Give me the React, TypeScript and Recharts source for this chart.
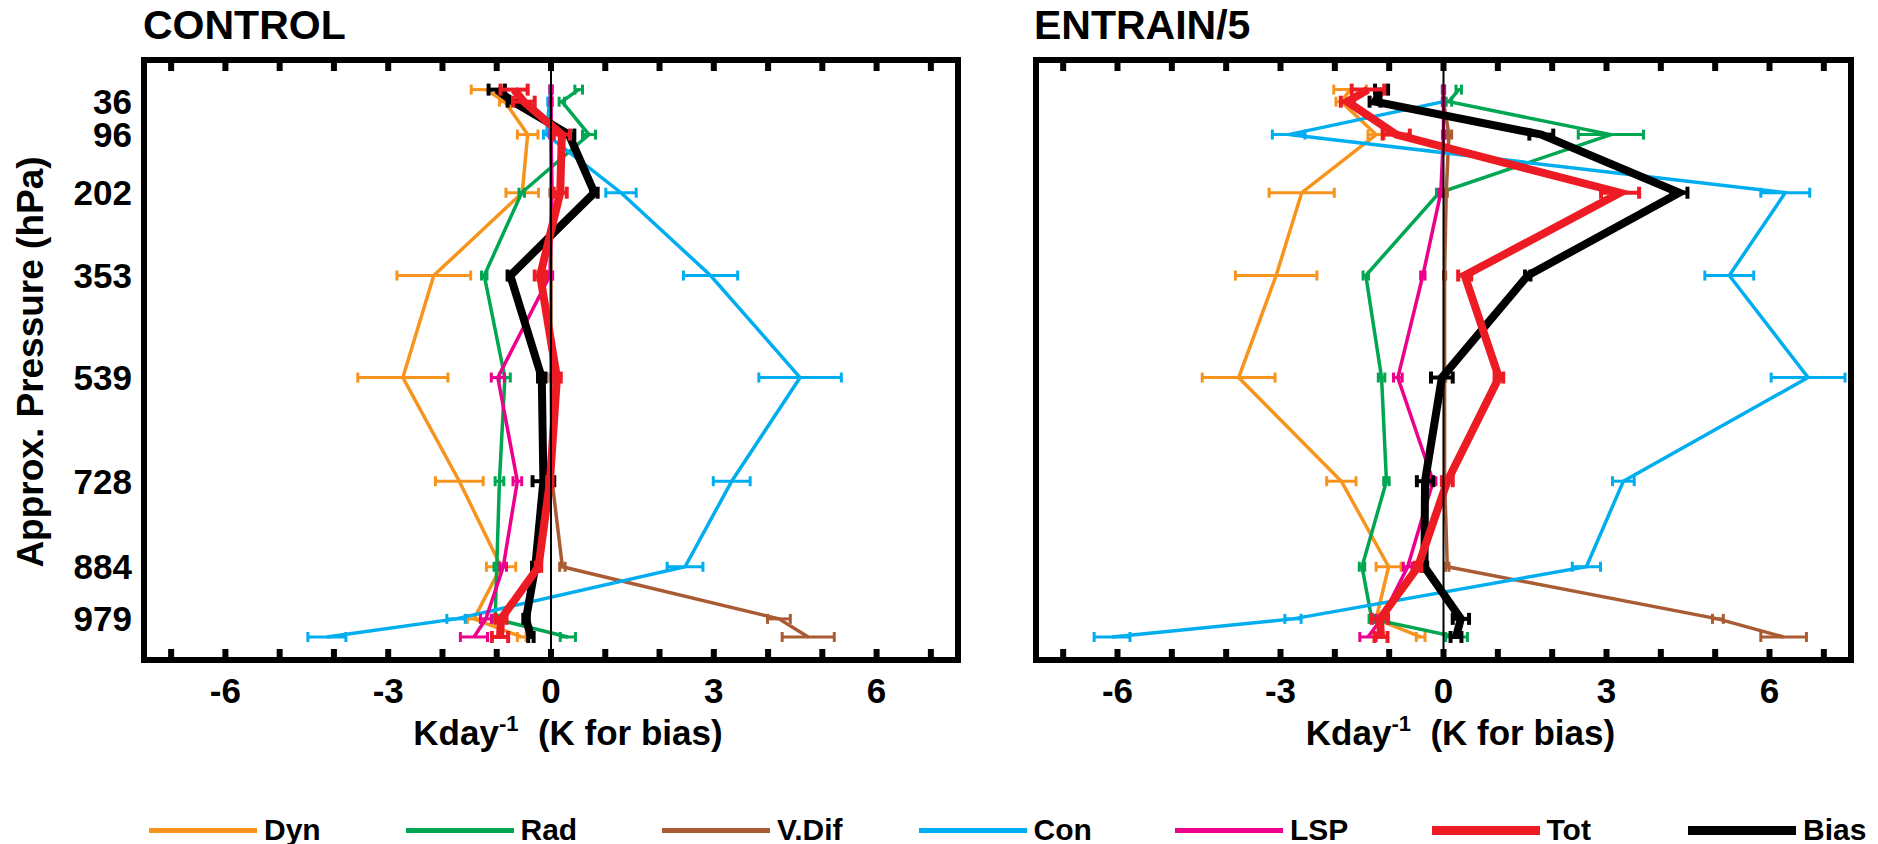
import React from 'react';
import { LineChart, Line, XAxis, YAxis, ErrorBar, ReferenceLine, Legend } from 'recharts';

const FONT = '"Liberation Sans", Arial, Helvetica, sans-serif';

// approx. pressure of each model level (hPa), top to bottom
const LEVELS = [14, 36, 96, 202, 353, 539, 728, 884, 979, 1012];
const LEVEL_LABELS = ['', '36', '96', '202', '353', '539', '728', '884', '979', ''];
const X_LABEL_TICKS = [-6, -3, 0, 3, 6];
const X_MINOR_TICKS = [-7, -6, -5, -4, -3, -2, -1, 0, 1, 2, 3, 4, 5, 6, 7];

// CONTROL
const CTRL_DYN = [-1.2, -0.85, -0.43, -0.53, -2.16, -2.73, -1.69, -0.92, -1.42, -0.54];
const CTRL_DYN_ERR = [0.27, 0.1, 0.19, 0.3, 0.68, 0.83, 0.44, 0.27, 0.12, 0.08];
const CTRL_RAD = [0.51, 0.2, 0.7, -0.54, -1.23, -0.85, -0.95, -1.0, -1.03, 0.31];
const CTRL_RAD_ERR = [0.07, 0.05, 0.12, 0.05, 0.05, 0.1, 0.08, 0.05, 0.05, 0.14];
const CTRL_VDIF = [0, 0, 0, 0, 0, 0, 0.02, 0.21, 4.2, 4.74];
const CTRL_VDIF_ERR = [0.02, 0.02, 0.02, 0.02, 0.02, 0.02, 0.03, 0.05, 0.21, 0.48];
const CTRL_CON = [0.0, -0.03, -0.08, 1.29, 2.94, 4.59, 3.33, 2.47, -1.75, -4.13];
const CTRL_CON_ERR = [0.02, 0.03, 0.06, 0.28, 0.5, 0.76, 0.34, 0.33, 0.17, 0.35];
const CTRL_LSP = [0, 0, 0, 0.02, -0.02, -0.98, -0.62, -0.88, -1.2, -1.42];
const CTRL_LSP_ERR = [0.02, 0.02, 0.02, 0.02, 0.05, 0.12, 0.08, 0.06, 0.1, 0.25];
const CTRL_TOT = [-0.68, -0.5, 0.2, 0.17, -0.2, 0.11, -0.02, -0.23, -0.92, -0.94];
const CTRL_TOT_ERR = [0.25, 0.2, 0.15, 0.12, 0.1, 0.07, 0.05, 0.05, 0.1, 0.15];
const CTRL_BIAS = [-1.0, -0.7, 0.33, 0.8, -0.75, -0.17, -0.14, -0.29, -0.46, -0.37];
const CTRL_BIAS_ERR = [0.15, 0.1, 0.1, 0.06, 0.05, 0.07, 0.2, 0.06, 0.05, 0.05];

// ENTRAIN/5
const ENT_DYN = [-1.72, -1.88, -1.24, -2.61, -3.08, -3.77, -1.88, -1.01, -1.24, -0.42];
const ENT_DYN_ERR = [0.3, 0.1, 0.15, 0.6, 0.75, 0.67, 0.27, 0.23, 0.1, 0.08];
const ENT_RAD = [0.28, 0.1, 3.08, -0.08, -1.43, -1.14, -1.05, -1.5, -1.32, 0.24];
const ENT_RAD_ERR = [0.05, 0.05, 0.6, 0.05, 0.05, 0.06, 0.05, 0.05, 0.05, 0.2];
const ENT_VDIF = [0, 0, 0.1, 0.05, 0.02, 0.02, 0.02, 0.07, 5.05, 6.26];
const ENT_VDIF_ERR = [0.02, 0.02, 0.05, 0.02, 0.02, 0.02, 0.02, 0.03, 0.1, 0.42];
const ENT_CON = [0.0, 0.0, -2.85, 6.29, 5.26, 6.71, 3.31, 2.63, -2.77, -6.1];
const ENT_CON_ERR = [0.02, 0.02, 0.3, 0.45, 0.45, 0.68, 0.2, 0.26, 0.15, 0.33];
const ENT_LSP = [0, 0, 0, -0.05, -0.38, -0.84, -0.19, -0.66, -1.14, -1.39];
const ENT_LSP_ERR = [0.02, 0.02, 0.02, 0.03, 0.04, 0.08, 0.05, 0.08, 0.1, 0.15];
const ENT_TOT = [-1.39, -1.77, -0.87, 3.25, 0.39, 1.02, 0.07, -0.47, -1.17, -1.15];
const ENT_TOT_ERR = [0.3, 0.12, 0.25, 0.35, 0.12, 0.08, 0.1, 0.06, 0.15, 0.12];
const ENT_BIAS = [-1.14, -1.26, 1.8, 4.34, 1.55, -0.03, -0.34, -0.35, 0.32, 0.23];
const ENT_BIAS_ERR = [0.12, 0.1, 0.22, 0.15, 0.05, 0.2, 0.15, 0.05, 0.15, 0.1];

const SERIES = [
  { key: 'dyn', name: 'Dyn', color: '#F7941D', width: 3.5, legend: 5 },
  { key: 'rad', name: 'Rad', color: '#00A651', width: 3.5, legend: 5 },
  { key: 'vdif', name: 'V.Dif', color: '#A95C34', width: 3.5, legend: 5 },
  { key: 'con', name: 'Con', color: '#00AEEF', width: 3.5, legend: 5 },
  { key: 'lsp', name: 'LSP', color: '#EC008C', width: 3.5, legend: 5 },
  { key: 'tot', name: 'Tot', color: '#ED1C24', width: 8, legend: 9 },
  { key: 'bias', name: 'Bias', color: '#000000', width: 8, legend: 9 },
];
// bias drawn under tot
const DRAW_ORDER = ['dyn', 'rad', 'vdif', 'con', 'lsp', 'bias', 'tot'];

const buildRows = (vals, errs) =>
  LEVELS.map((p, i) => {
    const row = { p };
    Object.keys(vals).forEach((k) => {
      row[k] = vals[k][i];
      row[k + 'Err'] = errs[k][i];
    });
    return row;
  });

const CTRL_ROWS = buildRows(
  { dyn: CTRL_DYN, rad: CTRL_RAD, vdif: CTRL_VDIF, con: CTRL_CON, lsp: CTRL_LSP, tot: CTRL_TOT, bias: CTRL_BIAS },
  { dyn: CTRL_DYN_ERR, rad: CTRL_RAD_ERR, vdif: CTRL_VDIF_ERR, con: CTRL_CON_ERR, lsp: CTRL_LSP_ERR, tot: CTRL_TOT_ERR, bias: CTRL_BIAS_ERR }
);
const ENT_ROWS = buildRows(
  { dyn: ENT_DYN, rad: ENT_RAD, vdif: ENT_VDIF, con: ENT_CON, lsp: ENT_LSP, tot: ENT_TOT, bias: ENT_BIAS },
  { dyn: ENT_DYN_ERR, rad: ENT_RAD_ERR, vdif: ENT_VDIF_ERR, con: ENT_CON_ERR, lsp: ENT_LSP_ERR, tot: ENT_TOT_ERR, bias: ENT_BIAS_ERR }
);

const FRAME = { stroke: '#000', strokeWidth: 6, strokeLinecap: 'square' as const };
const TICK = { stroke: '#000', strokeWidth: 6 };
const TICK_FONT = { fontSize: 35, fontWeight: 700, fill: '#000', fontFamily: FONT };
const X_DOMAIN = [-7.5, 7.5];
const Y_DOMAIN = [-40, 1054];

// tick marks only, no label
const NoLabel = () => null;

const XTitle = (props: any) => {
  const vb = props.viewBox || { x: 0, y: 660, width: 814 };
  return (
    <text
      x={vb.x + vb.width / 2 + 17}
      y={vb.y + 85}
      textAnchor="middle"
      fontSize={35}
      fontWeight={700}
      fontFamily={FONT}
      fill="#000"
      style={{ whiteSpace: 'pre' }}
    >
      Kday
      <tspan dy={-14} fontSize={22}>-1</tspan>
      <tspan dy={14}>{'  (K for bias)'}</tspan>
    </text>
  );
};

const YTitle = (props: any) => {
  const vb = props.viewBox || { x: 0, y: 60, height: 600 };
  const x = vb.x + 43;
  const y = vb.y + vb.height / 2 + 2;
  return (
    <text
      x={x}
      y={y}
      transform={`rotate(-90 ${x} ${y})`}
      textAnchor="middle"
      fontSize={37}
      fontWeight={700}
      fontFamily={FONT}
      fill="#000"
    >
      Approx. Pressure (hPa)
    </text>
  );
};

const LegendRow = (props: any) => {
  const payload = props.payload || [];
  return (
    <div style={{ position: 'relative', width: 1878, height: 40, fontFamily: FONT }}>
      {SERIES.map((s, i) => {
        const entry = payload.find((e) => e.value === s.name);
        return (
          <div
            key={s.key}
            style={{ position: 'absolute', left: 149 + i * 256.5, top: 0, height: 40, display: 'flex', alignItems: 'center' }}
          >
            <span style={{ display: 'inline-block', width: 108, height: s.legend, background: entry ? entry.color : s.color }} />
            <span style={{ marginLeft: 7, fontSize: 30, fontWeight: 700, color: '#000', lineHeight: '40px' }}>
              {s.name}
            </span>
          </div>
        );
      })}
    </div>
  );
};

const Panel = ({ rows, width, margin, showY, withLegend }) => (
  <LineChart width={width} height={780} data={rows} layout="vertical" margin={margin}>
    {/* inner tick marks + top/right frame */}
    <XAxis xAxisId="xb" orientation="bottom" mirror type="number" domain={X_DOMAIN} allowDataOverflow
      ticks={X_MINOR_TICKS} interval={0} height={1} axisLine={false} tick={NoLabel} tickLine={TICK} tickSize={11} />
    <XAxis xAxisId="xt" orientation="top" mirror type="number" domain={X_DOMAIN} allowDataOverflow
      ticks={X_MINOR_TICKS} interval={0} height={1} axisLine={FRAME} tick={NoLabel} tickLine={TICK} tickSize={11} />
    <YAxis yAxisId="yl" orientation="left" mirror type="number" domain={Y_DOMAIN} allowDataOverflow
      ticks={LEVELS} interval={0} width={1} axisLine={false} tick={NoLabel} tickLine={TICK} tickSize={9} />
    <YAxis yAxisId="yr" orientation="right" mirror type="number" domain={Y_DOMAIN} allowDataOverflow
      ticks={LEVELS} interval={0} width={1} axisLine={FRAME} tick={NoLabel} tickLine={TICK} tickSize={9} />

    <XAxis xAxisId="x" type="number" domain={X_DOMAIN} allowDataOverflow ticks={X_LABEL_TICKS} interval={0}
      height={100} axisLine={FRAME} tickLine={false} tickSize={8} tickMargin={10} tick={TICK_FONT} label={XTitle} />
    <YAxis yAxisId="y" type="number" dataKey="p" domain={Y_DOMAIN} allowDataOverflow ticks={LEVELS}
      interval={0} width={showY ? 144 : 1} axisLine={FRAME} tickLine={false} tickSize={6} tickMargin={6}
      tick={showY ? TICK_FONT : false}
      tickFormatter={(v) => LEVEL_LABELS[LEVELS.indexOf(v)] ?? ''}
      label={showY ? YTitle : undefined} />

    {DRAW_ORDER.map((k) => {
      const s = SERIES.find((x) => x.key === k);
      const thick = s.width > 5;
      return (
        <Line key={s.key} dataKey={s.key} name={s.name} xAxisId="x" yAxisId="y" stroke={s.color}
          strokeWidth={s.width} dot={false} activeDot={false} isAnimationActive={false}>
          <ErrorBar dataKey={s.key + 'Err'} direction="x" width={thick ? 6 : 5} stroke={s.color}
            strokeWidth={thick ? 4 : 3} isAnimationActive={false} />
        </Line>
      );
    })}
    <ReferenceLine x={0} xAxisId="x" yAxisId="y" stroke="#000" strokeWidth={2} zIndex={1000} />
    {withLegend && (
      <Legend content={LegendRow} layout="horizontal" verticalAlign="middle" align="center"
        wrapperStyle={{ position: 'absolute', left: 0, top: 810, width: 1878, height: 40 }} />
    )}
  </LineChart>
);

const titleStyle = {
  position: 'absolute' as const,
  top: 5,
  fontSize: 41,
  lineHeight: '41px',
  fontWeight: 700,
  fontFamily: FONT,
  color: '#000',
  whiteSpace: 'nowrap' as const,
};

export default function App() {
  return (
    <div style={{ position: 'absolute', left: 0, top: 0, width: 1878, height: 844, background: '#fff', fontFamily: FONT }}>
      <div style={{ position: 'absolute', left: 0, top: 0 }}>
        <Panel rows={CTRL_ROWS} width={1000} margin={{ top: 60, right: 42, bottom: 20, left: 0 }} showY withLegend />
      </div>
      <div style={{ position: 'absolute', left: 1000, top: 0 }}>
        <Panel rows={ENT_ROWS} width={878} margin={{ top: 60, right: 27, bottom: 20, left: 35 }} showY={false} withLegend={false} />
      </div>
      <div style={{ ...titleStyle, left: 143 }}>CONTROL</div>
      <div style={{ ...titleStyle, left: 1034 }}>ENTRAIN/5</div>
    </div>
  );
}
